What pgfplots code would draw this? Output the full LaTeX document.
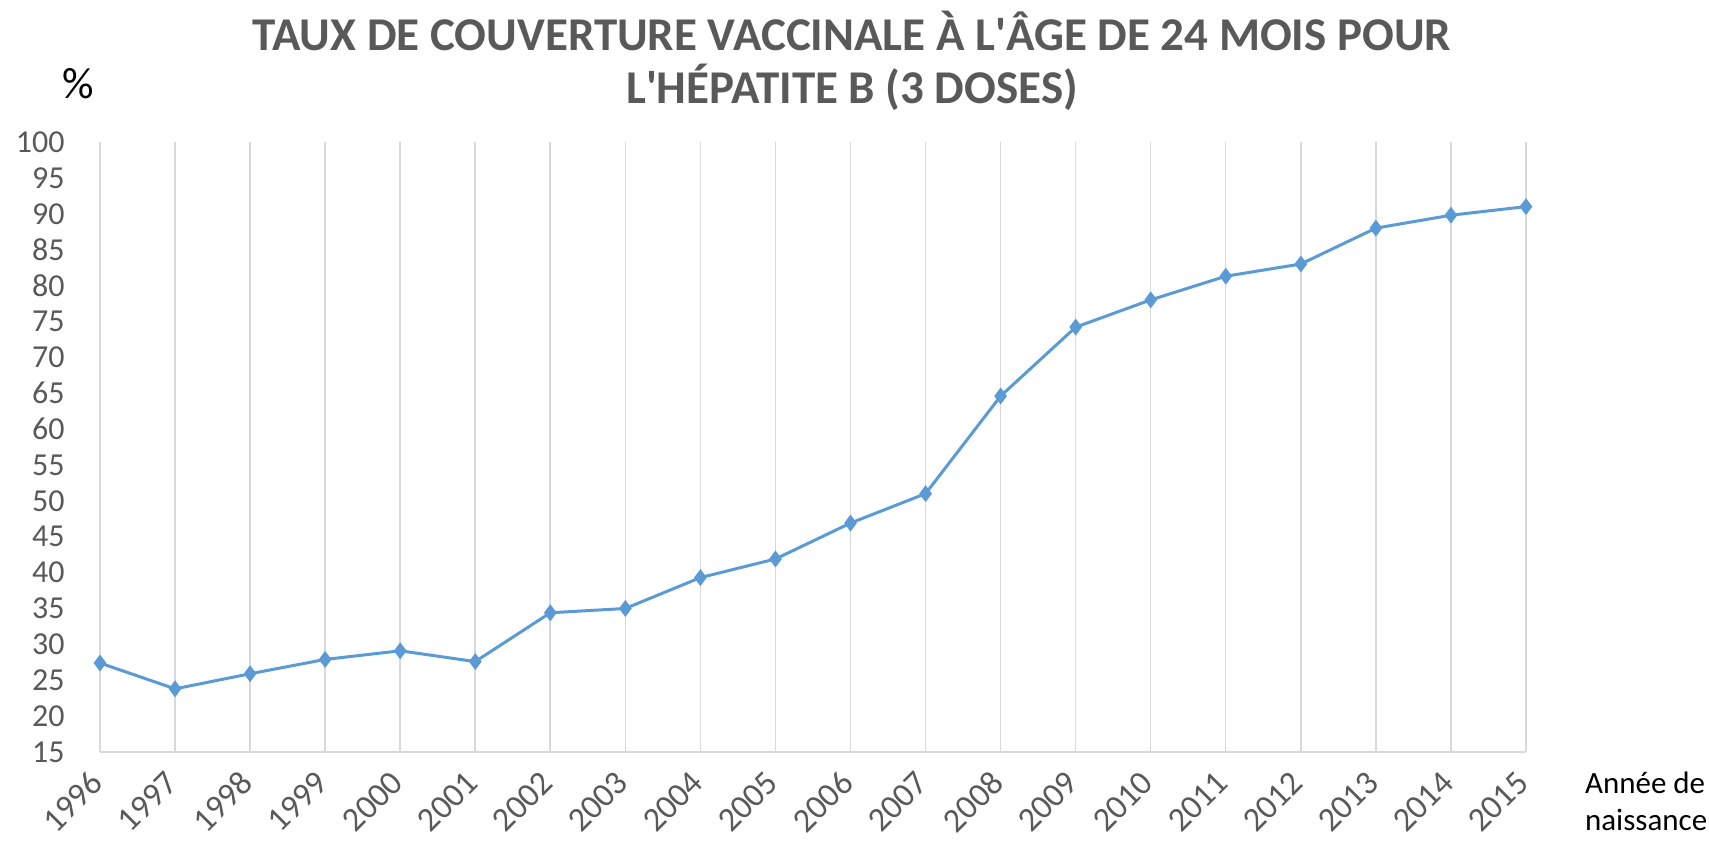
\documentclass[border=0pt]{standalone}
\usepackage{fontspec}
\setmainfont{Carlito}
\usepackage{pgfplots}
\pgfplotsset{compat=1.18}
\definecolor{lineblue}{HTML}{5B9BD5}
\definecolor{txtgray}{HTML}{595959}
\definecolor{gridgray}{HTML}{D9D9D9}
\begin{document}
\begin{tikzpicture}
\path[use as bounding box] (0,0) rectangle (854.5pt,428pt);
\begin{axis}[
  at={(50pt,52pt)}, anchor=south west,
  scale only axis, width=713pt, height=305pt,
  xmin=1996, xmax=2015, ymin=15, ymax=100,
  xtick={1996,...,2015},
  ytick={15,20,...,100},
  /pgf/number format/assume math mode=true,
  xticklabel={\pgfmathprintnumber[1000 sep={}]{\tick}},
  axis line style={draw=none},
  axis x line*=bottom, axis y line*=left,
  tick style={draw=none},
  xmajorgrids, major grid style={gridgray, line width=0.8pt},
  x tick label style={xshift=-1.5pt, yshift=-12.5pt, rotate=45, anchor=east, inner sep=0pt, font=\fontsize{17}{17}\selectfont, text=txtgray},
  y tick label style={xshift=-17.5pt, anchor=east, inner sep=0pt, font=\fontsize{16}{17}\selectfont, text=txtgray},
  clip=false,
]
\draw[gridgray, line width=0.8pt] (axis cs:1996,15) -- (axis cs:2015,15);
\addplot[lineblue, line width=1.5pt, mark=diamond*, mark size=3pt, mark options={fill=lineblue, draw=lineblue}]
coordinates {
(1996,27.4) (1997,23.8) (1998,25.9) (1999,27.9) (2000,29.1)
(2001,27.6) (2002,34.4) (2003,35.0) (2004,39.3) (2005,41.9)
(2006,46.9) (2007,51.0) (2008,64.6) (2009,74.2) (2010,78.0)
(2011,81.3) (2012,83.0) (2013,88.0) (2014,89.8) (2015,91.0)
};
\end{axis}
\node[font=\bfseries\fontsize{23.5}{24}\selectfont, text=txtgray] at (426pt,412.5pt) {TAUX DE COUVERTURE VACCINALE À L\textquotesingle ÂGE DE 24 MOIS POUR};
\node[font=\bfseries\fontsize{23.5}{24}\selectfont, text=txtgray] at (426pt,384.5pt) {L\textquotesingle HÉPATITE B (3 DOSES)};
\node[font=\fontsize{22}{22}\selectfont] at (39pt,386pt) {\%};
\node[font=\fontsize{15.5}{16}\selectfont, anchor=base west] at (789pt,31pt) {Année de};
\node[font=\fontsize{15.5}{16}\selectfont, anchor=base west] at (789pt,12.5pt) {naissance};
\end{tikzpicture}
\end{document}
